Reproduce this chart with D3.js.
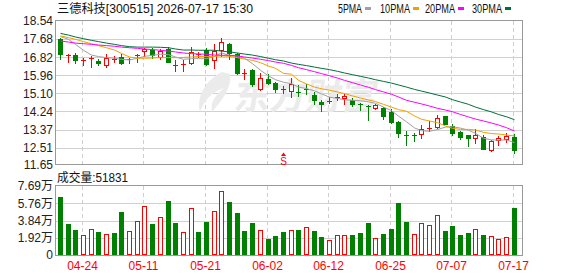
<!DOCTYPE html>
<html>
<head>
<meta charset="utf-8">
<script src="https://cdn.jsdelivr.net/npm/d3@7/dist/d3.min.js"></script>
<style>
  body { margin: 0; background: #fff; }
  svg { display: block; }
</style>
</head>
<body>
<script>
// trading days shown (MM-DD, 2026)
const dates = ["04-21","04-22","04-23","04-24","04-27","04-28","04-29","04-30","05-06","05-07",
  "05-08","05-11","05-12","05-13","05-14","05-15","05-18","05-19","05-20","05-21",
  "05-22","05-25","05-26","05-27","05-28","05-29","06-01","06-02","06-03","06-04",
  "06-05","06-08","06-09","06-10","06-11","06-12","06-15","06-16","06-17","06-18",
  "06-22","06-23","06-24","06-25","06-26","06-29","06-30","07-01","07-02","07-03",
  "07-06","07-07","07-08","07-09","07-10","07-13","07-14","07-15","07-16","07-17"];

const open = [17.67,16.92,16.94,16.69,16.77,16.64,16.47,16.73,16.85,16.70,
  16.92,17.10,17.16,16.85,17.21,16.44,16.46,16.56,16.97,17.15,
  16.69,17.15,17.43,16.96,16.03,16.20,15.32,15.80,15.58,15.31,
  15.21,15.18,15.33,15.02,14.71,14.73,14.90,14.90,14.80,14.59,
  14.52,14.41,14.39,14.23,13.76,13.12,13.13,13.19,13.45,13.52,
  14.01,13.57,13.28,13.12,12.99,13.03,12.41,12.89,12.95,13.03];
const high = [17.72,16.97,17.02,16.78,16.86,16.73,16.96,16.88,16.96,16.80,
  16.97,17.27,17.24,17.23,17.30,16.69,16.67,17.32,17.08,17.24,
  17.43,17.75,17.51,17.04,16.24,16.24,16.08,16.01,15.66,15.45,
  15.82,15.48,15.56,15.15,14.77,14.93,15.06,15.09,14.90,14.66,
  14.53,14.61,14.45,14.34,13.79,13.31,13.23,13.60,13.79,14.06,
  14.03,13.63,13.31,13.12,13.39,13.12,12.89,13.06,13.20,13.19];
const low = [16.75,16.61,16.54,16.43,16.35,16.45,16.37,16.61,16.48,16.56,
  16.61,16.88,16.78,16.75,16.59,16.16,16.16,16.48,16.83,16.47,
  16.32,16.88,16.72,16.04,15.77,15.45,15.28,15.53,15.17,15.13,
  14.93,14.98,15.09,14.61,14.26,14.64,14.77,14.58,14.50,14.33,
  13.85,14.37,13.87,13.69,13.04,12.65,12.84,13.00,13.31,13.47,
  13.63,13.12,12.92,12.60,12.76,12.47,12.36,12.65,12.81,12.27];
const close = [16.99,16.94,16.67,16.70,16.80,16.54,16.80,16.75,16.54,16.72,
  16.94,17.21,16.92,17.11,16.61,16.42,16.48,17.08,16.99,16.48,
  17.10,17.56,17.04,16.08,16.06,15.53,15.81,15.58,15.29,15.28,
  15.53,15.16,15.31,14.79,14.58,14.75,14.92,14.99,14.58,14.57,
  14.50,14.53,14.03,13.76,13.22,13.10,13.12,13.39,13.47,13.91,
  13.66,13.22,13.03,12.99,13.11,12.47,12.84,12.99,13.06,12.43];

const volume = [65000,34900,28200,21900,29000,26000,23400,24900,48300,26700,
  37900,54600,34900,42400,60500,36000,26000,52400,26000,37100,
  49000,71300,59100,47100,27100,36000,27900,18200,21500,26000,
  28200,27900,31200,26700,20100,16700,21900,21900,22300,24500,
  35700,18600,23400,29000,58000,36800,23400,35700,33400,44600,
  27100,32300,22300,24500,29000,22300,21200,17800,20100,51831];

const ma5 = [17.80,17.67,17.43,17.15,16.92,16.85,16.80,16.77,16.72,16.69,
  16.77,16.86,16.91,16.96,16.94,16.83,16.72,16.75,16.75,16.75,
  16.85,17.03,16.90,16.87,16.77,16.51,16.20,15.93,15.75,15.63,
  15.56,15.40,15.33,15.22,15.08,14.92,14.86,14.80,14.77,14.75,
  14.70,14.63,14.45,14.28,14.02,13.75,13.46,13.33,13.30,13.38,
  13.50,13.52,13.45,13.35,13.20,12.97,12.89,12.88,12.89,12.76];
const ma10 = [17.83,17.75,17.67,17.56,17.46,17.37,17.27,17.16,17.00,16.83,
  16.77,16.77,16.78,16.80,16.80,16.80,16.81,16.83,16.85,16.85,
  16.86,16.88,16.86,16.80,16.73,16.67,16.56,16.40,16.29,16.05,
  16.01,15.72,15.55,15.40,15.32,15.25,15.17,15.09,14.98,14.88,
  14.79,14.71,14.58,14.45,14.33,14.25,14.03,13.87,13.79,13.71,
  13.55,13.44,13.39,13.39,13.36,13.25,13.19,13.17,13.12,13.08];
const ma20 = [17.59,17.54,17.49,17.46,17.43,17.40,17.37,17.34,17.30,17.27,
  17.24,17.21,17.18,17.15,17.11,17.07,17.02,16.99,16.97,16.96,
  16.92,16.91,16.91,16.88,16.83,16.78,16.72,16.66,16.59,16.53,
  16.43,16.32,16.23,16.13,16.04,15.94,15.83,15.72,15.61,15.50,
  15.39,15.28,15.17,15.06,14.93,14.77,14.68,14.60,14.50,14.39,
  14.31,14.23,14.10,13.98,13.88,13.79,13.69,13.60,13.47,13.31];
const ma30 = [17.95,17.87,17.78,17.70,17.62,17.56,17.49,17.43,17.37,17.32,
  17.30,17.30,17.30,17.29,17.27,17.21,17.16,17.16,17.15,17.15,
  17.15,17.11,17.07,17.02,16.97,16.92,16.85,16.77,16.70,16.64,
  16.54,16.48,16.42,16.35,16.29,16.23,16.15,16.07,15.99,15.91,
  15.83,15.75,15.67,15.59,15.50,15.40,15.29,15.21,15.12,15.02,
  14.93,14.80,14.69,14.58,14.45,14.33,14.22,14.10,13.99,13.85];

const maNames = ["5PMA","10PMA","20PMA","30PMA"];
const tickDates = ["04-24","05-11","05-21","06-02","06-12","06-25","07-07","07-17"];
const priceTicks = ["18.54","17.68","16.82","15.96","15.10","14.24","13.37","12.51","11.65"];
const volTicks = ["7.69万","5.76万","3.84万","1.92万","0"];
const volTickValues = [76900,57600,38400,19200,0];
const signalDates = ["06-04"];
const title = "三德科技[300515] 2026-07-17 15:30";

// layout
const width = 578, height = 276;
const left = 55.5, right = 522.5;
const pTop = 21, pBot = 166, volTop = 186, volBot = 255;
const red = "#ff0000", green = "#008000";
const maColors = ["#a0a0a0","#f0a000","#ff00ff","#006f3a"];
const font = "'Liberation Sans', Arial, 'Noto Sans CJK SC', sans-serif";

const svg = d3.select("body").append("svg")
  .attr("width", width).attr("height", height)
  .style("font-family", font);

const x = d3.scaleBand().domain(dates)
  .range([56.5, 518.1])
  .paddingInner(0.35).paddingOuter(0.175);
const bx = d => Math.round(x(d));
const cx = d => bx(d) + 2.5;

const y = d3.scaleLinear().domain([11.65, 18.54]).range([pBot, pTop]);
const yv = d3.scaleLinear().domain([0, 76900]).range([volBot, volTop]);

// grids
const grid = svg.append("g").attr("shape-rendering", "crispEdges");
priceTicks.slice(1, -1).forEach(t => {
  const yy = Math.round(y(+t)) + 0.5;
  grid.append("line").attr("x1", left).attr("x2", right).attr("y1", yy).attr("y2", yy)
    .attr("stroke", "#d0d0d0");
});
volTickValues.slice(1, -1).forEach(v => {
  const yy = Math.round(yv(v)) + 0.5;
  grid.append("line").attr("x1", left).attr("x2", right).attr("y1", yy).attr("y2", yy)
    .attr("stroke", "#d0d0d0");
});
tickDates.forEach(d => {
  [[pTop, 165], [volTop, volBot]].forEach(([a, b]) => {
    grid.append("line").attr("x1", cx(d) - 1).attr("x2", cx(d) - 1).attr("y1", a).attr("y2", b)
      .attr("stroke", "#cfcfcf").attr("stroke-dasharray", "4,3");
  });
});

// watermark
const wm = svg.append("g").attr("fill", "#ebebeb");
wm.append("path")
  .attr("d", "M222,72 C206,80 196,96 200,112 C204,100 212,92 224,88 C214,96 210,104 212,112 C222,100 232,88 230,74 Z");
wm.append("text").attr("x", 234).attr("y", 109)
  .attr("font-size", 36).attr("font-weight", "bold")
  .attr("font-family", "'Noto Sans CJK SC', sans-serif")
  .attr("transform", "skewX(-8) translate(14,0)")
  .text("东方财富");

// frames
grid.append("rect").attr("x", left).attr("y", pTop - 0.5).attr("width", right - left).attr("height", 165 - pTop)
  .attr("fill", "none").attr("stroke", "#999");
grid.append("rect").attr("x", left).attr("y", volTop - 0.5).attr("width", right - left).attr("height", volBot - volTop + 0.5)
  .attr("fill", "none").attr("stroke", "#999");

// candles
const candles = svg.append("g").attr("shape-rendering", "crispEdges");
dates.forEach((d, i) => {
  const up = close[i] >= open[i];
  const col = up ? red : green;
  const top = Math.round(y(Math.max(open[i], close[i])));
  const bot = Math.round(y(Math.min(open[i], close[i])));
  candles.append("line").attr("x1", cx(d)).attr("x2", cx(d))
    .attr("y1", Math.round(y(high[i]))).attr("y2", Math.round(y(low[i])) + 1)
    .attr("stroke", col);
  if (bot - top < 2) {
    candles.append("rect").attr("x", bx(d)).attr("y", top).attr("width", 5).attr("height", Math.max(1, bot - top))
      .attr("fill", col);
  } else if (up) {
    candles.append("rect").attr("x", bx(d) + 0.5).attr("y", top + 0.5).attr("width", 4).attr("height", bot - top)
      .attr("fill", "#fff").attr("stroke", col);
  } else {
    candles.append("rect").attr("x", bx(d)).attr("y", top).attr("width", 5).attr("height", bot - top + 1)
      .attr("fill", col);
  }
});

// moving averages
const line = d3.line().x((v, i) => cx(dates[i])).y(v => y(v));
[ma5, ma10, ma20, ma30].forEach((s, k) => {
  svg.append("path").attr("d", line(s)).attr("fill", "none")
    .attr("stroke", maColors[k]).attr("stroke-width", 1);
});

// volume bars
const vol = svg.append("g").attr("shape-rendering", "crispEdges");
dates.forEach((d, i) => {
  const up = i === 0 ? close[i] >= open[i] : close[i] >= close[i - 1];
  const top = Math.round(yv(volume[i]));
  if (up) {
    vol.append("rect").attr("x", bx(d) + 0.5).attr("y", top + 0.5).attr("width", 4).attr("height", volBot - top - 1)
      .attr("fill", "#fff").attr("stroke", red);
  } else {
    vol.append("rect").attr("x", bx(d)).attr("y", top).attr("width", 5).attr("height", volBot - top)
      .attr("fill", green);
  }
});

// signal marker
signalDates.forEach(d => {
  const xx = cx(d);
  svg.append("path").attr("d", `M${xx - 2.5},156 L${xx},152.5 L${xx + 2.5},156 Z`).attr("fill", red);
  svg.append("text").attr("x", xx).attr("y", 165).attr("text-anchor", "middle")
    .attr("font-size", 10).attr("fill", red).text("S");
});

// axis labels
priceTicks.forEach((t, i) => {
  const yy = i === priceTicks.length - 1 ? 165 : y(+t);
  svg.append("text").attr("x", 53).attr("y", yy).attr("dy", "0.36em")
    .attr("text-anchor", "end").attr("font-size", 12).attr("fill", "#222").text(t);
});
volTicks.forEach((t, i) => {
  svg.append("text").attr("x", 53).attr("y", yv(volTickValues[i])).attr("dy", "0.36em")
    .attr("text-anchor", "end").attr("font-size", 12).attr("fill", "#222").text(t);
});
tickDates.forEach(d => {
  svg.append("text").attr("x", cx(d) - 1).attr("y", 270).attr("text-anchor", "middle")
    .attr("font-size", 12).attr("fill", red).text(d);
});

// header
svg.append("text").attr("x", 57).attr("y", 13).attr("font-size", 12).attr("fill", "#111")
  .attr("textLength", 196).attr("lengthAdjust", "spacingAndGlyphs").text(title);
svg.append("text").attr("x", 57).attr("y", 182).attr("font-size", 12).attr("fill", "#111")
  .attr("textLength", 71).attr("lengthAdjust", "spacingAndGlyphs")
  .text("成交量:" + volume[volume.length - 1]);

// legend
const legendX = [338, 380, 425, 472];
maNames.forEach((n, k) => {
  const w = n.length * 6;
  svg.append("text").attr("x", legendX[k]).attr("y", 13).attr("font-size", 12).attr("fill", "#111")
    .attr("textLength", w).attr("lengthAdjust", "spacingAndGlyphs").text(n);
  svg.append("rect").attr("x", legendX[k] + w + 3).attr("y", 7).attr("width", 6).attr("height", 3)
    .attr("fill", maColors[k]).attr("shape-rendering", "crispEdges");
});
</script>
</body>
</html>
